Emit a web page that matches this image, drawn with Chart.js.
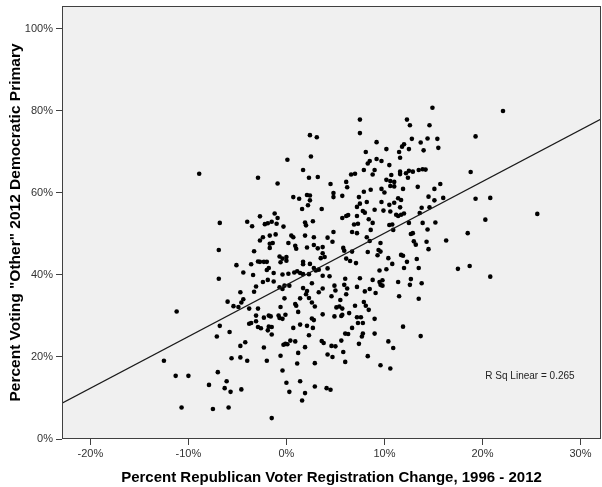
<!DOCTYPE html>
<html lang="en">
  <head>
    <meta charset="UTF-8" />
    <script src="https://cdn.jsdelivr.net/npm/chart.js@4.4.0/dist/chart.umd.min.js"></script>
    <title>Republican registration change vs Other vote</title>
    <style>
      body {
        margin: 0;
        padding: 0;
        background: #fff;
      }
      .container {
        width: 602px;
        height: 487px;
      }
    </style>
  </head>
  <body>
    <div class="container">
      <canvas id="scatter"></canvas>
    </div>
    <script>
      // axis setup (percent)
      const xTicks = [-20, -10, 0, 10, 20, 30]
      const yTicks = [0, 20, 40, 60, 80, 100]
      const xRange = [-22.9, 32.1]
      const yRange = [0, 105.6]

      // linear fit shown on the chart
      const fitIntercept = 37.6
      const fitSlope = 1.26
      const rSquared = '0.265'
      const rLabelAt = [20.3, 15.4]

      // [registration change %, "Other" vote %] per county
      const counties = [
        [-8.9,64.7],[-2.9,63.7],[2.4,74.1],[3.1,73.6],[0.1,68.1],[2.5,68.9],[1.7,65.6],[-0.9,62.3],[2.3,63.7],[3.2,63.9],
        [4.5,62.2],[6.6,64.5],[7.0,64.7],[6.1,62.7],[6.2,61.4],[0.7,59.0],[1.3,58.6],[2.1,59.5],[2.4,59.4],[2.4,58.2],
        [2.2,57.0],[4.8,60.0],[4.8,59.0],[5.7,59.3],[1.6,56.1],[3.6,56.1],[7.4,59.0],[7.2,56.6],
        [14.9,80.8],[7.5,77.9],[12.3,77.9],[12.6,76.5],[14.6,76.5],[7.5,74.6],[12.8,73.2],[14.4,73.3],[15.4,73.2],[13.7,72.3],
        [9.2,72.4],[12.0,71.9],[11.8,71.3],[14.0,70.4],[15.5,71.0],[12.5,70.7],[10.2,70.7],[8.1,70.0],[11.5,70.0],[11.6,68.6],
        [9.2,68.3],[9.7,67.8],[8.5,67.8],[8.3,67.2],[10.5,66.8],[9.0,65.6],[7.9,65.6],[8.8,64.5],[10.7,64.4],[11.6,65.2],
        [11.6,64.6],[12.2,64.8],[12.5,65.4],[12.9,65.2],[13.5,65.6],[13.9,65.8],[14.2,65.7],[12.4,63.7],[10.2,63.2],[10.6,62.9],
        [11.0,62.7],[10.6,61.7],[11.0,61.6],[11.9,61.0],[13.4,61.5],[15.7,62.2],[15.1,61.0],[9.7,61.0],[10.0,60.1],[8.6,60.8],
        [7.9,60.3],[8.2,57.8],[9.7,57.8],[10.5,57.1],[11.0,57.6],[11.4,58.7],[11.7,58.3],[11.6,56.5],[14.5,59.1],[15.1,58.2],
        [16.0,58.8],[13.8,56.4],[14.6,56.5],[7.5,57.4],
        [22.1,80.0],[19.3,73.8],[18.8,65.1],[19.3,58.6],[20.8,58.8],
        [25.6,54.9],[20.3,53.5],[18.5,50.2],[16.3,48.4],[17.5,41.5],[18.7,42.2],[20.8,39.6],
        [-6.8,52.7],[-4.0,53.0],[-3.5,51.9],[-2.7,54.3],[-2.7,48.4],[-6.9,46.1],[-3.3,45.8],[-2.9,43.3],[-5.1,42.4],[-3.6,42.6],
        [-4.4,40.6],[-3.4,40.0],[-6.9,39.1],[-3.1,37.2],[-4.7,35.8],[-3.3,35.9],[-6.0,33.5],[-4.4,34.1],[-4.6,33.3],[-5.4,32.4],
        [-4.9,32.2],[-3.8,31.8],[-2.9,31.8],[-11.2,31.1],[-3.1,30.1],
        [-1.2,55.0],[-0.9,53.9],[-2.2,52.4],[-1.9,52.6],[-1.5,53.0],[-1.0,52.5],[-0.3,51.8],[1.9,52.8],[2.0,52.1],[2.7,53.1],
        [5.7,53.9],[6.1,54.4],[6.3,54.6],[7.2,54.4],[6.9,52.3],[7.3,52.5],[6.7,50.5],[7.2,50.2],[4.8,50.5],[-1.1,49.9],
        [-1.7,49.6],[-2.4,49.2],[0.5,49.6],[0.7,49.2],[0.9,47.1],[1.0,46.4],[0.2,47.8],[1.9,49.6],[2.8,49.2],[4.2,49.1],
        [4.7,48.1],[-1.7,47.6],[-1.4,47.8],[-1.7,46.6],[2.1,46.7],[2.8,47.3],[3.2,46.5],[3.7,46.8],[5.8,46.6],[5.9,45.9],
        [3.7,45.3],[3.5,44.1],[3.9,44.4],[-0.7,44.5],[-0.4,44.0],[0.0,44.4],[-0.6,43.1],[0.0,43.5],[-2.7,43.2],[-2.3,43.2],
        [-2.0,43.2],[1.7,43.2],[1.7,42.6],[2.4,42.7],[2.8,41.7],[3.0,41.1],[3.3,41.3],[4.2,41.6],[6.1,44.0],[6.5,43.4],
        [7.1,42.9],[-1.8,41.7],[-2.0,41.2],[-1.3,40.5],[0.8,40.6],[1.1,40.9],[1.4,40.5],[1.7,40.2],[0.2,40.3],[-0.4,40.1],
        [2.3,40.2],[3.7,39.8],[4.4,39.7],[2.6,38.0],[6.0,39.1],[-2.4,38.3],[-1.9,38.8],[-1.3,38.4],[-0.7,37.0],[-0.2,37.4],
        [0.3,37.4],[-0.4,36.6],[1.7,36.8],[2.1,36.1],[2.0,35.3],[3.7,36.7],[4.9,37.4],[5.0,36.2],[5.9,37.6],[6.2,36.7],
        [7.2,37.1],[4.6,34.8],[3.3,35.8],[6.1,35.3],[2.3,34.4],[1.4,34.3],[-0.2,34.3],[5.5,33.9],[0.9,32.9],[1.0,32.5],
        [2.6,33.3],[2.9,32.3],[-0.6,32.2],[5.1,32.1],[5.4,32.3],[5.7,31.8],[6.4,30.7],[3.7,30.4],[4.9,29.9],[1.2,31.0],
        [-0.1,30.3],[-2.3,29.6],[7.0,32.5],
        [7.8,55.6],[8.0,55.2],[9.0,55.9],[9.9,55.7],[10.6,55.5],[11.2,54.7],[11.4,54.4],[11.7,54.7],[12.0,55.0],[13.6,55.1],
        [8.4,53.6],[8.8,52.7],[10.5,52.2],[10.8,52.3],[12.5,52.7],[13.9,52.7],[15.2,52.8],[8.6,51.0],[8.2,49.2],[10.9,51.0],
        [12.7,50.0],[12.9,50.2],[14.4,51.1],[8.5,48.3],[13.0,48.2],[13.2,47.4],[14.3,48.1],[14.5,46.3],[9.6,47.8],[9.4,46.1],
        [9.6,45.7],[6.7,45.7],[8.3,45.6],[9.3,44.8],[11.7,44.9],[11.9,44.7],[13.3,43.9],[10.4,44.1],[12.3,43.2],[10.8,42.7],
        [10.2,41.4],[9.5,41.1],[12.0,41.7],[13.5,41.7],[7.5,39.2],[8.8,38.8],[9.5,38.3],[9.8,38.7],[9.6,37.6],[9.8,37.4],
        [11.4,38.3],[12.7,39.0],[12.6,37.6],[13.8,38.0],[8.5,36.6],[8.0,36.0],[9.1,35.6],[11.5,34.8],[13.5,34.2],[7.9,33.4],
        [8.1,32.5],[8.4,31.5],[7.2,29.7],[7.6,29.7],[9.0,29.3],
        [-6.8,27.6],[-5.8,26.1],[-7.1,25.0],[-3.8,28.1],[-3.6,28.3],[-3.1,28.7],[-1.8,30.1],[-1.6,29.9],[-0.8,30.1],[-0.7,29.5],
        [-0.4,29.3],[-2.9,27.3],[-2.6,27.0],[-1.9,26.5],[-1.8,27.4],[-1.5,27.3],[-1.5,25.5],[0.7,27.1],[1.4,27.9],[2.1,27.6],
        [2.3,25.3],[-4.2,23.6],[-4.7,22.7],[-2.3,22.3],[-0.3,23.0],[-0.1,23.2],[0.1,23.1],[0.4,24.0],[0.9,23.8],[1.9,22.4],
        [-5.6,19.7],[-4.7,19.9],[-4.0,19.1],[-2.0,19.1],[-0.6,20.3],[1.2,21.0],[1.1,18.4],[-12.5,19.1],[-0.4,16.7],[-7.0,16.3],
        [-11.3,15.4],[-10.0,15.4],[-6.1,14.1],[0.0,13.7],[1.4,14.1],[-7.9,13.2],[-6.3,12.4],[-5.7,11.5],[-4.6,12.1],[0.3,11.5],
        [1.9,11.2],[1.6,9.4],[-10.7,7.7],[-7.5,7.3],[-5.9,7.7],[-1.5,5.1],
        [2.6,29.4],[2.8,29.0],[5.6,30.0],[5.7,30.3],[7.3,28.3],[7.8,28.3],[2.7,27.1],[6.7,27.1],[6.0,25.7],[6.3,25.6],
        [7.8,25.7],[7.7,25.0],[9.0,25.7],[11.9,27.4],[13.7,25.1],[3.6,23.9],[3.8,23.4],[4.6,22.7],[5.0,22.6],[5.6,24.0],
        [7.4,23.2],[10.4,23.8],[10.9,22.2],[5.8,21.2],[4.2,20.6],[4.7,20.0],[8.3,20.2],[2.9,18.5],[6.0,18.8],[9.6,18.0],
        [10.6,17.2],[2.9,12.8],[4.1,12.4],[4.5,12.0],
      ]

      const axisColor = '#404040'
      const tickFont = { family: 'Liberation Sans, Arial, sans-serif', size: 11 }
      const titleFont = { family: 'Liberation Sans, Arial, sans-serif', size: 15, weight: 'bold' }

      // grey plot background, frame and the R² note
      const plotFrame = {
        id: 'plotFrame',
        beforeDatasetsDraw(chart) {
          const { ctx, chartArea: a } = chart
          ctx.save()
          ctx.fillStyle = '#f0f0f0'
          ctx.fillRect(a.left, a.top, a.right - a.left, a.bottom - a.top)
          ctx.restore()
        },
        afterDraw(chart) {
          const { ctx, chartArea: a, scales } = chart
          ctx.save()
          ctx.strokeStyle = axisColor
          ctx.lineWidth = 1
          ctx.strokeRect(a.left + 0.5, a.top + 0.5, a.right - a.left - 1, a.bottom - a.top - 1)
          ctx.fillStyle = '#222'
          ctx.font = '10px "Liberation Sans", Arial, sans-serif'
          ctx.textBaseline = 'middle'
          ctx.fillText(
            'R Sq Linear = ' + rSquared,
            scales.x.getPixelForValue(rLabelAt[0]),
            scales.y.getPixelForValue(rLabelAt[1])
          )
          ctx.restore()
        },
      }

      new Chart(document.getElementById('scatter'), {
        type: 'scatter',
        data: {
          datasets: [
            {
              type: 'line',
              data: xRange.map((x) => ({ x, y: fitIntercept + fitSlope * x })),
              borderColor: '#1a1a1a',
              borderWidth: 1.2,
              pointRadius: 0,
              fill: false,
            },
            {
              data: counties.map((p) => ({ x: p[0], y: p[1] })),
              backgroundColor: '#000',
              borderWidth: 0,
              pointRadius: 2.3,
            },
          ],
        },
        options: {
          responsive: true,
          maintainAspectRatio: false,
          animation: false,
          layout: { autoPadding: false, padding: { top: 6, right: 1, left: 0, bottom: 0 } },
          plugins: {
            legend: { display: false },
            tooltip: { enabled: false },
          },
          scales: {
            x: {
              type: 'linear',
              min: xRange[0],
              max: xRange[1],
              afterBuildTicks: (scale) => {
                scale.ticks = xTicks.map((v) => ({ value: v }))
              },
              afterFit: (scale) => {
                scale.height = 48
                scale.paddingLeft = 0
                scale.paddingRight = 0
              },
              border: { display: false },
              grid: { drawOnChartArea: false, tickLength: 6, color: axisColor },
              ticks: {
                font: tickFont,
                color: '#333',
                padding: 2,
                maxRotation: 0,
                callback: (v) => v + '%',
              },
              title: {
                display: true,
                text: 'Percent Republican Voter Registration Change, 1996 - 2012',
                font: titleFont,
                color: '#000',
                padding: { top: 0, bottom: 0 },
              },
            },
            y: {
              min: yRange[0],
              max: yRange[1],
              afterBuildTicks: (scale) => {
                scale.ticks = yTicks.map((v) => ({ value: v }))
              },
              afterFit: (scale) => {
                scale.width = 62
                scale.paddingTop = 0
                scale.paddingBottom = 0
              },
              border: { display: false },
              grid: { drawOnChartArea: false, tickLength: 6, color: axisColor },
              ticks: {
                font: tickFont,
                color: '#333',
                padding: 3,
                callback: (v) => v + '%',
              },
              title: {
                display: true,
                text: 'Percent Voting "Other" 2012 Democratic Primary',
                font: { ...titleFont, size: 15.5 },
                color: '#000',
                padding: { top: 6, bottom: 0 },
              },
            },
          },
        },
        plugins: [plotFrame],
      })
    </script>
  </body>
</html>
